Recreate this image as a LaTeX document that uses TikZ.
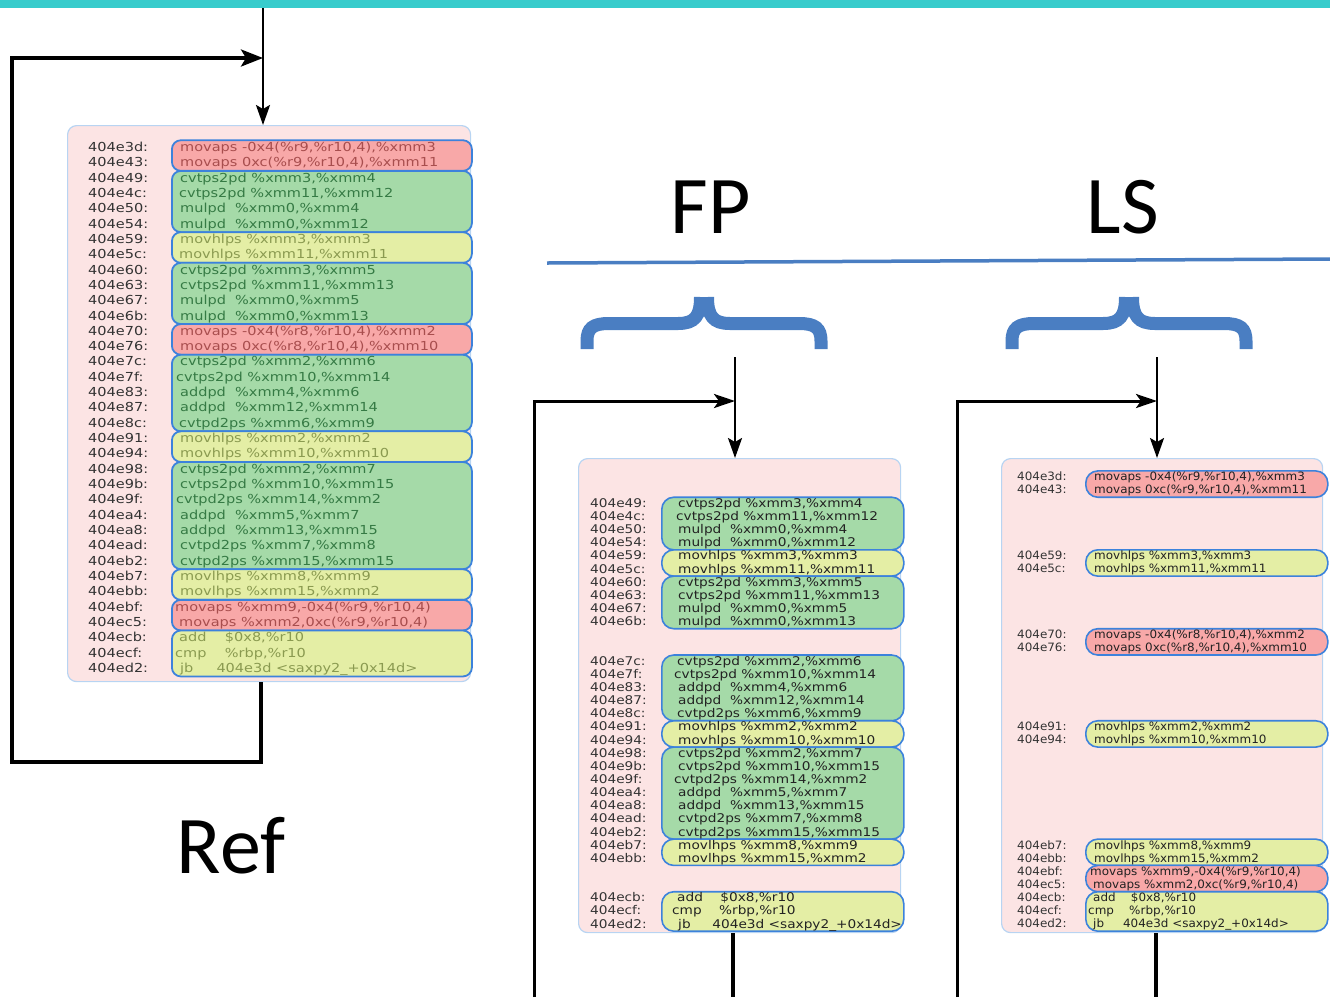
\documentclass[tikz,border=0pt]{standalone}
\usepackage{fontspec}
\usepackage{graphicx}
\usetikzlibrary{arrows.meta}
\newfontfamily\dv{DejaVu Sans}
\newfontfamily\calfont{Carlito}
\definecolor{cyanbar}{HTML}{38CCCC}
\definecolor{bgpink}{HTML}{FCE4E4}
\definecolor{bgedge}{HTML}{B8D4F2}
\definecolor{gred}{HTML}{F8A8A8}
\definecolor{ggreen}{HTML}{A5DAA8}
\definecolor{gyellow}{HTML}{E4EEA5}
\definecolor{gedge}{HTML}{3C82DC}
\definecolor{tred}{HTML}{A84E4E}
\definecolor{tgreen}{HTML}{357A44}
\definecolor{tyellow}{HTML}{8A9A50}
\definecolor{taddr}{HTML}{333333}
\definecolor{tdark}{HTML}{222222}
\definecolor{braceblue}{HTML}{4A7EC2}
\tikzset{
  adr/.style={inner sep=0pt, anchor=base west, text=taddr},
  blk/.style={draw=bgedge, fill=bgpink, line width=1.2pt, rounded corners=9pt, inner sep=0pt, anchor=north west},
  gbox/.style={draw=gedge, line width=1.8pt, rounded corners=9pt, inner sep=0pt, anchor=north west},
  gboxw/.style={draw=gedge, line width=1.6pt, rounded corners=12pt, inner sep=0pt, anchor=north west},
  arr/.style={draw=black, line width=2.4pt, -{Stealth[length=20pt,width=14pt,inset=4pt]}},
  lp/.style={draw=black, line width=3.4pt},
  arrh/.style={draw=black, line width=3.4pt, -{Stealth[length=22pt,width=17pt,inset=5pt]}},
  brc/.style={draw=braceblue, line width=13pt, line cap=butt},
  big/.style={font=\fontsize{82}{90}\calfont, anchor=base, text=black}
}
% left listing line: name, index, address, x of instruction, colour, instruction
\newcommand\LL[6]{%
  \node[adr] (#1a) at (88,{147+15.32*#2+4.5}) {\fontsize{12.4}{14}\dv\scalebox{1.17}[1]{#3}};
  \node[adr,text=#5] (#1i) at (#4,{147+15.32*#2+4.5}) {\fontsize{12.4}{14}\dv\scalebox{1.17}[1]{#6}};}
% middle listing line: name, slot, address, x, instruction
\newcommand\ML[5]{%
  \node[adr] (#1a) at (590,{503+13.15*#2+4.3}) {\fontsize{12}{13}\dv\scalebox{1.14}[1]{#3}};
  \node[adr,text=tdark] (#1i) at (#4,{503+13.15*#2+4.3}) {\fontsize{12}{13}\dv\scalebox{1.14}[1]{#5}};}
% right listing line
\newcommand\RL[5]{%
  \node[adr] (#1a) at (1017,{503+13.15*#2+4.1}) {\fontsize{11.5}{13}\dv\scalebox{1.04}[1]{#3}};
  \node[adr,text=tdark] (#1i) at (#4,{503+13.15*#2+4.1}) {\fontsize{11.5}{13}\dv\scalebox{1.04}[1]{#5}};}
\newcommand\GB[7]{% style, name, x, ytop, w, h, fill
  \node[#1,fill=#7,minimum width=#5pt,minimum height=#6pt] (#2) at (#3,#4) {};}
\begin{document}
\begin{tikzpicture}[x=1pt,y=-1pt]
\useasboundingbox (0,0) rectangle (1330,997);
\fill[cyanbar] (0,0) rectangle (1330,8);

% ---------------- Ref block ----------------
\node[blk,minimum width=403pt,minimum height=556pt] (bgL) at (67,125) {};
\GB{gbox}{gL1}{171}{139.34}{300}{30.64}{gred}
\GB{gbox}{gL2}{171}{170.0}{300}{61.28}{ggreen}
\GB{gbox}{gL3}{171}{231.26}{300}{30.64}{gyellow}
\GB{gbox}{gL4}{171}{261.9}{300}{61.28}{ggreen}
\GB{gbox}{gL5}{171}{323.18}{300}{30.64}{gred}
\GB{gbox}{gL6}{171}{353.82}{300}{76.6}{ggreen}
\GB{gbox}{gL7}{171}{430.42}{300}{30.64}{gyellow}
\GB{gbox}{gL8}{171}{461.06}{300}{107.24}{ggreen}
\GB{gbox}{gL9}{171}{568.3}{300}{30.64}{gyellow}
\GB{gbox}{gL10}{171}{598.94}{300}{30.64}{gred}
\GB{gbox}{gL11}{171}{629.58}{300}{45.96}{gyellow}

\LL{l0}{0}{404e3d:}{180}{tred}{movaps -0x4(\%r9,\%r10,4),\%xmm3}
\LL{l1}{1}{404e43:}{180}{tred}{movaps 0xc(\%r9,\%r10,4),\%xmm11}
\LL{l2}{2}{404e49:}{180}{tgreen}{cvtps2pd \%xmm3,\%xmm4}
\LL{l3}{3}{404e4c:}{179}{tgreen}{cvtps2pd \%xmm11,\%xmm12}
\LL{l4}{4}{404e50:}{180}{tgreen}{mulpd~~\%xmm0,\%xmm4}
\LL{l5}{5}{404e54:}{180}{tgreen}{mulpd~~\%xmm0,\%xmm12}
\LL{l6}{6}{404e59:}{180}{tyellow}{movhlps \%xmm3,\%xmm3}
\LL{l7}{7}{404e5c:}{179}{tyellow}{movhlps \%xmm11,\%xmm11}
\LL{l8}{8}{404e60:}{180}{tgreen}{cvtps2pd \%xmm3,\%xmm5}
\LL{l9}{9}{404e63:}{180}{tgreen}{cvtps2pd \%xmm11,\%xmm13}
\LL{l10}{10}{404e67:}{180}{tgreen}{mulpd~~\%xmm0,\%xmm5}
\LL{l11}{11}{404e6b:}{180}{tgreen}{mulpd~~\%xmm0,\%xmm13}
\LL{l12}{12}{404e70:}{180}{tred}{movaps -0x4(\%r8,\%r10,4),\%xmm2}
\LL{l13}{13}{404e76:}{180}{tred}{movaps 0xc(\%r8,\%r10,4),\%xmm10}
\LL{l14}{14}{404e7c:}{180}{tgreen}{cvtps2pd \%xmm2,\%xmm6}
\LL{l15}{15}{404e7f:}{176}{tgreen}{cvtps2pd \%xmm10,\%xmm14}
\LL{l16}{16}{404e83:}{180}{tgreen}{addpd~~\%xmm4,\%xmm6}
\LL{l17}{17}{404e87:}{180}{tgreen}{addpd~~\%xmm12,\%xmm14}
\LL{l18}{18}{404e8c:}{179}{tgreen}{cvtpd2ps \%xmm6,\%xmm9}
\LL{l19}{19}{404e91:}{180}{tyellow}{movhlps \%xmm2,\%xmm2}
\LL{l20}{20}{404e94:}{180}{tyellow}{movhlps \%xmm10,\%xmm10}
\LL{l21}{21}{404e98:}{180}{tgreen}{cvtps2pd \%xmm2,\%xmm7}
\LL{l22}{22}{404e9b:}{180}{tgreen}{cvtps2pd \%xmm10,\%xmm15}
\LL{l23}{23}{404e9f:}{176}{tgreen}{cvtpd2ps \%xmm14,\%xmm2}
\LL{l24}{24}{404ea4:}{180}{tgreen}{addpd~~\%xmm5,\%xmm7}
\LL{l25}{25}{404ea8:}{180}{tgreen}{addpd~~\%xmm13,\%xmm15}
\LL{l26}{26}{404ead:}{180}{tgreen}{cvtpd2ps \%xmm7,\%xmm8}
\LL{l27}{27}{404eb2:}{180}{tgreen}{cvtpd2ps \%xmm15,\%xmm15}
\LL{l28}{28}{404eb7:}{180}{tyellow}{movlhps \%xmm8,\%xmm9}
\LL{l29}{29}{404ebb:}{180}{tyellow}{movlhps \%xmm15,\%xmm2}
\LL{l30}{30}{404ebf:}{175}{tred}{movaps \%xmm9,-0x4(\%r9,\%r10,4)}
\LL{l31}{31}{404ec5:}{179}{tred}{movaps \%xmm2,0xc(\%r9,\%r10,4)}
\LL{l32}{32}{404ecb:}{179}{tyellow}{add~~~~\$0x8,\%r10}
\LL{l33}{33}{404ecf:}{175}{tyellow}{cmp~~~~\%rbp,\%r10}
\LL{l34}{34}{404ed2:}{180}{tyellow}{jb~~~~~404e3d <saxpy2\_+0x14d>}

\coordinate (Ltop) at (263,8);
\coordinate (Lb) at (261,762);
\coordinate (Ll) at (12,762);
\coordinate (Lt) at (12,58);
\draw[arr] (Ltop) -- (Ltop |- bgL.north);
\draw[arrh] (bgL.south -| Lb) -- (Lb) -- (Ll) -- (Lt) -- (Lt -| Ltop);
\node[big] (ref) at (231,873) {Ref};

% ---------------- headings ----------------
\coordinate (hl0) at (547,263);
\coordinate (hl1) at (1330,259);
\draw[braceblue, line width=3.5pt] (hl0) -- (hl1);
\node[big] (fp) at (711,233) {FP};
\node[big] (ls) at (1123,233) {LS};
\foreach \cx in {704,1129} {
  \draw[brc] (\cx-117,349) -- (\cx-117,341) .. controls (\cx-117,328) and (\cx-111,323.5) .. (\cx-95,323.5)
     -- (\cx-26,323.5) .. controls (\cx-9,323.5) and (\cx-3.5,316) .. (\cx-3.5,297);
  \draw[brc] (\cx+117,349) -- (\cx+117,341) .. controls (\cx+117,328) and (\cx+111,323.5) .. (\cx+95,323.5)
     -- (\cx+26,323.5) .. controls (\cx+9,323.5) and (\cx+3.5,316) .. (\cx+3.5,297);
}

% ---------------- FP block ----------------
\node[blk,minimum width=322pt,minimum height=474pt] (bgM) at (578,458) {};
\GB{gboxw}{gM1}{661}{496.43}{242}{52.6}{ggreen}
\GB{gboxw}{gM2}{661}{549.03}{242}{26.3}{gyellow}
\GB{gboxw}{gM3}{661}{575.33}{242}{52.6}{ggreen}
\GB{gboxw}{gM4}{661}{654.23}{242}{65.75}{ggreen}
\GB{gboxw}{gM5}{661}{719.98}{242}{26.3}{gyellow}
\GB{gboxw}{gM6}{661}{746.28}{242}{92.05}{ggreen}
\GB{gboxw}{gM7}{661}{838.33}{242}{26.3}{gyellow}
\GB{gboxw}{gM8}{661}{890.93}{242}{39.45}{gyellow}

\ML{m0}{0}{404e49:}{678}{cvtps2pd \%xmm3,\%xmm4}
\ML{m1}{1}{404e4c:}{676}{cvtps2pd \%xmm11,\%xmm12}
\ML{m2}{2}{404e50:}{678}{mulpd~~\%xmm0,\%xmm4}
\ML{m3}{3}{404e54:}{678}{mulpd~~\%xmm0,\%xmm12}
\ML{m4}{4}{404e59:}{678}{movhlps \%xmm3,\%xmm3}
\ML{m5}{5}{404e5c:}{678}{movhlps \%xmm11,\%xmm11}
\ML{m6}{6}{404e60:}{678}{cvtps2pd \%xmm3,\%xmm5}
\ML{m7}{7}{404e63:}{678}{cvtps2pd \%xmm11,\%xmm13}
\ML{m8}{8}{404e67:}{678}{mulpd~~\%xmm0,\%xmm5}
\ML{m9}{9}{404e6b:}{678}{mulpd~~\%xmm0,\%xmm13}
\ML{m12}{12}{404e7c:}{677}{cvtps2pd \%xmm2,\%xmm6}
\ML{m13}{13}{404e7f:}{674}{cvtps2pd \%xmm10,\%xmm14}
\ML{m14}{14}{404e83:}{678}{addpd~~\%xmm4,\%xmm6}
\ML{m15}{15}{404e87:}{678}{addpd~~\%xmm12,\%xmm14}
\ML{m16}{16}{404e8c:}{677}{cvtpd2ps \%xmm6,\%xmm9}
\ML{m17}{17}{404e91:}{678}{movhlps \%xmm2,\%xmm2}
\ML{m18}{18}{404e94:}{678}{movhlps \%xmm10,\%xmm10}
\ML{m19}{19}{404e98:}{678}{cvtps2pd \%xmm2,\%xmm7}
\ML{m20}{20}{404e9b:}{678}{cvtps2pd \%xmm10,\%xmm15}
\ML{m21}{21}{404e9f:}{674}{cvtpd2ps \%xmm14,\%xmm2}
\ML{m22}{22}{404ea4:}{678}{addpd~~\%xmm5,\%xmm7}
\ML{m23}{23}{404ea8:}{678}{addpd~~\%xmm13,\%xmm15}
\ML{m24}{24}{404ead:}{678}{cvtpd2ps \%xmm7,\%xmm8}
\ML{m25}{25}{404eb2:}{678}{cvtpd2ps \%xmm15,\%xmm15}
\ML{m26}{26}{404eb7:}{678}{movlhps \%xmm8,\%xmm9}
\ML{m27}{27}{404ebb:}{678}{movlhps \%xmm15,\%xmm2}
\ML{m30}{30}{404ecb:}{677}{add~~~~\$0x8,\%r10}
\ML{m31}{31}{404ecf:}{672}{cmp~~~~\%rbp,\%r10}
\ML{m32}{32}{404ed2:}{678}{jb~~~~~404e3d <saxpy2\_+0x14d>}

\coordinate (Mtop) at (735,357);
\coordinate (Mb) at (733,997);
\coordinate (Ml0) at (534,997);
\coordinate (Ml1) at (534,401);
\draw[arr] (Mtop) -- (Mtop |- bgM.north);
\draw[lp] (bgM.south -| Mb) -- (Mb);
\draw[draw=black, line width=3pt, -{Stealth[length=21pt,width=14pt,inset=5pt]}] (Ml0) -- (Ml1) -- (Ml1 -| Mtop);

% ---------------- LS block ----------------
\node[blk,minimum width=321pt,minimum height=474pt] (bgR) at (1001,458) {};
\GB{gboxw}{gR1}{1085}{470.13}{242}{26.3}{gred}
\GB{gboxw}{gR2}{1085}{549.03}{242}{26.3}{gyellow}
\GB{gboxw}{gR3}{1085}{627.93}{242}{26.3}{gred}
\GB{gboxw}{gR4}{1085}{719.98}{242}{26.3}{gyellow}
\GB{gboxw}{gR5}{1085}{838.33}{242}{26.3}{gyellow}
\GB{gboxw}{gR6}{1085}{864.63}{242}{26.3}{gred}
\GB{gboxw}{gR7}{1085}{890.93}{242}{39.45}{gyellow}

\RL{r0}{-2}{404e3d:}{1094}{movaps -0x4(\%r9,\%r10,4),\%xmm3}
\RL{r1}{-1}{404e43:}{1094}{movaps 0xc(\%r9,\%r10,4),\%xmm11}
\RL{r4}{4}{404e59:}{1094}{movhlps \%xmm3,\%xmm3}
\RL{r5}{5}{404e5c:}{1094}{movhlps \%xmm11,\%xmm11}
\RL{r10}{10}{404e70:}{1094}{movaps -0x4(\%r8,\%r10,4),\%xmm2}
\RL{r11}{11}{404e76:}{1094}{movaps 0xc(\%r8,\%r10,4),\%xmm10}
\RL{r17}{17}{404e91:}{1094}{movhlps \%xmm2,\%xmm2}
\RL{r18}{18}{404e94:}{1094}{movhlps \%xmm10,\%xmm10}
\RL{r26}{26}{404eb7:}{1094}{movlhps \%xmm8,\%xmm9}
\RL{r27}{27}{404ebb:}{1094}{movlhps \%xmm15,\%xmm2}
\RL{r28}{28}{404ebf:}{1090}{movaps \%xmm9,-0x4(\%r9,\%r10,4)}
\RL{r29}{29}{404ec5:}{1093}{movaps \%xmm2,0xc(\%r9,\%r10,4)}
\RL{r30}{30}{404ecb:}{1093}{add~~~~\$0x8,\%r10}
\RL{r31}{31}{404ecf:}{1088}{cmp~~~~\%rbp,\%r10}
\RL{r32}{32}{404ed2:}{1093}{jb~~~~~404e3d <saxpy2\_+0x14d>}

\coordinate (Rtop) at (1157,357);
\coordinate (Rb) at (1156,997);
\coordinate (Rl0) at (957,997);
\coordinate (Rl1) at (957,401);
\draw[arr] (Rtop) -- (Rtop |- bgR.north);
\draw[lp] (bgR.south -| Rb) -- (Rb);
\draw[draw=black, line width=3pt, -{Stealth[length=21pt,width=14pt,inset=5pt]}] (Rl0) -- (Rl1) -- (Rl1 -| Rtop);
\end{tikzpicture}
\end{document}
